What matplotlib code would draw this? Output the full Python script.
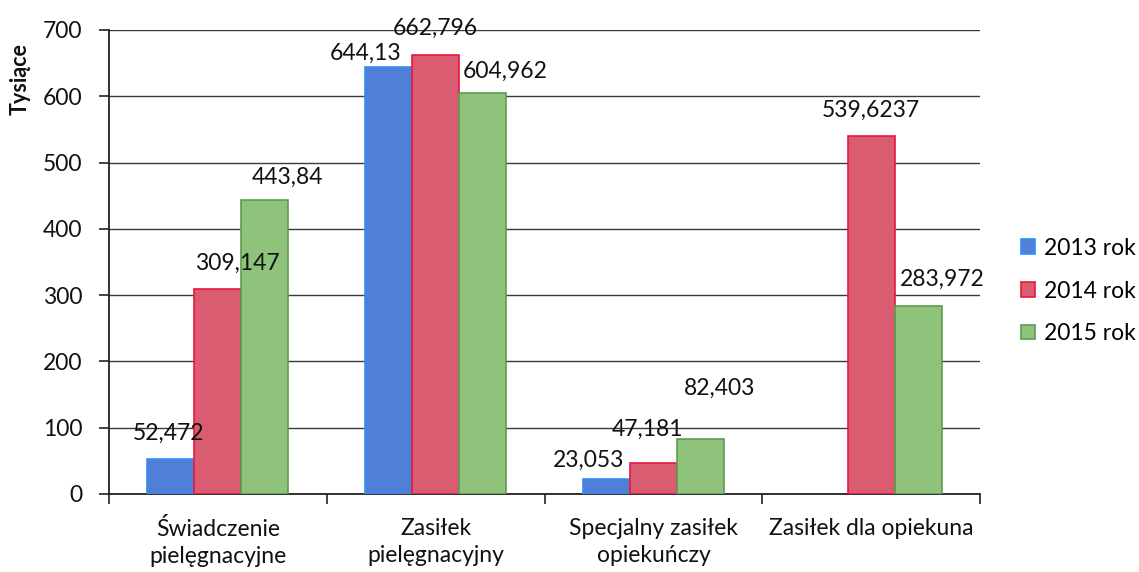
import matplotlib
matplotlib.use("Agg")
import matplotlib.pyplot as plt
import numpy as np

plt.rcParams['font.family'] = ['Lato', 'DejaVu Sans']

# dane
kategorie = ['Świadczenie\npielęgnacyjne', 'Zasiłek\npielęgnacyjny',
             'Specjalny zasiłek\nopiekuńczy', 'Zasiłek dla opiekuna']
serie = ['2013 rok', '2014 rok', '2015 rok']
v2013 = [52.472, 644.13, 23.053, None]
v2014 = [309.147, 662.796, 47.181, 539.6237]
v2015 = [443.84, 604.962, 82.403, 283.972]
etykiety2013 = ['52,472', '644,13', '23,053', None]
etykiety2014 = ['309,147', '662,796', '47,181', '539,6237']
etykiety2015 = ['443,84', '604,962', '82,403', '283,972']

# przesuniecia etykiet (px), jak recznie ustawione w Excelu
przes2013 = [(-2, 0), (-23, -12), (-18, -7), (0, 0)]
przes2014 = [(19, 0), (0, 1), (-6, 8), (0, 0)]
przes2015 = [(23, -3), (23, -4), (19, 26), (24, 1)]

kolory = ['#4f7fd6', '#d95c70', '#8fc27b']
krawedzie = ['#2f8ff5', '#e8163f', '#5f9a52']
FS = 16.5

fig = plt.figure(figsize=(11.39, 5.72), dpi=100)
ax = fig.add_axes([109 / 1139, 1 - 494 / 572, (980 - 109) / 1139, (494 - 30) / 572])

x = np.arange(len(kategorie))
w = 0.216
dane = [v2013, v2014, v2015]
etyk = [etykiety2013, etykiety2014, etykiety2015]
przes = [przes2013, przes2014, przes2015]

for i, (vals, lab) in enumerate(zip(dane, serie)):
    idx = [j for j, v in enumerate(vals) if v is not None]
    ax.bar(x[idx] + (i - 1) * w, [vals[j] for j in idx], width=w, color=kolory[i],
           edgecolor=krawedzie[i], linewidth=1.2, label=lab, zorder=3)
    for j in idx:
        dx, dy = przes[i][j]
        ax.annotate(etyk[i][j], (x[j] + (i - 1) * w, vals[j]), xytext=(dx, 19 + dy),
                    textcoords='offset pixels', ha='center', va='baseline',
                    fontsize=FS, color='#111111', zorder=4)

ax.set_xlim(-0.5, 3.5)
ax.set_ylim(0, 700)
ax.set_yticks(np.arange(0, 701, 100))
ax.set_xticks(x)
ax.set_xticklabels(kategorie, fontsize=FS, linespacing=1.4, color='#111111')
ax.set_xticks(np.arange(-0.5, 3.6, 1), minor=True)
ax.tick_params(axis='x', which='major', length=0, pad=17)
ax.tick_params(axis='x', which='minor', length=7, width=1.2, direction='out', color='#222222')
ax.tick_params(axis='y', length=7, width=1.2, pad=12, labelsize=FS, color='#222222',
               labelcolor='#111111')
ax.grid(axis='y', color='#3a3a3a', linewidth=1.0, zorder=0)
ax.set_axisbelow(True)
for s in ['top', 'right']:
    ax.spines[s].set_visible(False)
for s in ['left', 'bottom']:
    ax.spines[s].set_color('#222222')
    ax.spines[s].set_linewidth(1.3)

fig.text(20 / 1139, 1 - 79 / 572, 'Tysiące', rotation=90, fontsize=15.5, fontweight='bold',
         ha='center', va='center', color='#111111')

fig.legend(loc='center left', bbox_to_anchor=(1021 / 1139, 1 - 291 / 572),
           frameon=False, fontsize=FS, handlelength=0.6, handleheight=0.6,
           handletextpad=0.4, labelspacing=0.95, borderpad=0, borderaxespad=0)

fig.savefig('out.png', dpi=100)
